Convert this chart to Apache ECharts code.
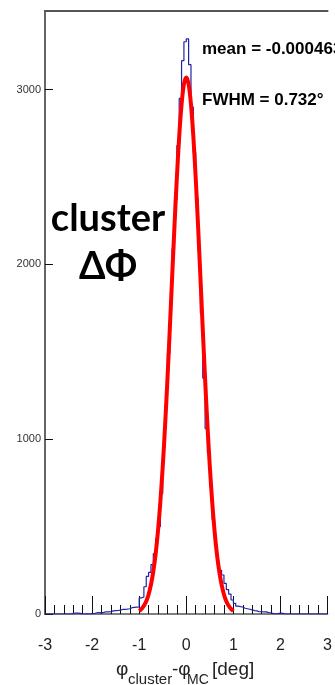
<!DOCTYPE html>
<html>
<head>
<meta charset="utf-8">
<script src="https://cdn.jsdelivr.net/npm/echarts@6/dist/echarts.min.js"></script>
<style>
  html, body { margin: 0; padding: 0; background: #fff; }
  #chart { width: 335px; height: 685px; }
</style>
</head>
<body>
<div id="chart"></div>
<script>
// Histogram of phi_cluster - phi_MC, 0.05 deg bins from -3 to 3 deg
const binStart = -3;
const binWidth = 0.05;
const counts = [
  0, 0, 0, 0, 0, 0, 0, 0, 0, 0, 0,
  3, 5, 5, 4, 1, 0, 1, 0, 2,
  3, 7, 8, 6, 9, 13, 12, 14, 18, 19,
  20, 22, 26, 27, 28, 30, 36, 38, 39, 40,
  92, 97, 156, 215, 238, 282, 345, 430, 500, 690,
  950, 1200, 1490, 1770, 2090, 2370, 2680, 2950, 3166, 3274,
  3290, 3143, 2900, 2640, 2380, 2080, 1720, 1350, 1060, 920,
  727, 540, 390, 300, 250, 223, 175, 140, 114, 80,
  61, 45, 42, 40, 33, 30, 27, 24, 19, 18,
  13, 13, 12, 12, 8, 7, 2, 1, 3, 5,
  4,
  0, 0, 0, 0, 0, 0, 0, 0, 0, 0, 0, 0, 0, 0, 0, 0, 0, 0, 0
];

// Gaussian fit curve, sampled every 0.05 deg over [-1, 1]
const fitStart = -1;
const fitStep = 0.05;
const fitValues = [
  17, 29, 47, 73, 112, 168, 244, 345, 477, 643,
  843, 1078, 1342, 1630, 1928, 2222, 2496, 2733, 2915, 3031,
  3070,
  3031, 2915, 2733, 2496, 2222, 1928, 1630, 1342, 1078, 843,
  643, 477, 345, 244, 168, 112, 73, 47, 29, 17
];

const meanLabel = 'mean = -0.000463';
const fwhmLabel = 'FWHM = 0.732\u00b0';

const histData = counts.map((v, i) => [+(binStart + i * binWidth).toFixed(2), v]);
histData.push([+(binStart + counts.length * binWidth).toFixed(2), counts[counts.length - 1]]);
const fitData = fitValues.map((v, i) => [+(fitStart + i * fitStep).toFixed(2), v]);

const chart = echarts.init(document.getElementById('chart'), null, { renderer: 'canvas' });

const sans = '"Liberation Sans", Arial, sans-serif';

chart.setOption({
  animation: false,
  backgroundColor: '#fff',
  grid: { left: 45, right: 3, top: 11, bottom: 71 },
  xAxis: [
    {
      type: 'value', min: -3, max: 3, interval: 1, position: 'bottom',
      axisLine: { show: true, onZero: false, lineStyle: { color: '#555', width: 1.5 } },
      axisTick: { show: true, inside: true, length: 18, lineStyle: { color: '#111', width: 1 } },
      minorTick: { show: true, splitNumber: 5, length: 9, lineStyle: { color: '#111', width: 1 } },
      axisLabel: { fontSize: 16, color: '#222', margin: 24, fontFamily: sans },
      splitLine: { show: false }
    },
    {
      type: 'value', position: 'top', min: -3, max: 3,
      axisLine: { show: true, onZero: false, lineStyle: { color: '#555', width: 2 } },
      axisTick: { show: false }, axisLabel: { show: false }, splitLine: { show: false }
    }
  ],
  yAxis: {
    type: 'value', min: 0, max: 3450, interval: 1000, position: 'left',
    axisLine: { show: true, onZero: false, lineStyle: { color: '#666', width: 2 } },
    axisTick: { show: true, inside: true, length: 8, lineStyle: { color: '#111', width: 1 } },
    axisLabel: { fontSize: 11, color: '#333', margin: 4, fontFamily: sans, showMaxLabel: false,
      formatter: v => String(v) },
    splitLine: { show: false }
  },
  series: [
    {
      type: 'line', xAxisIndex: 0, data: histData, step: 'end', symbol: 'none',
      lineStyle: { color: '#2222a8', width: 1.2 }, z: 2
    },
    {
      type: 'line', xAxisIndex: 0, data: fitData, smooth: 0.3, symbol: 'none',
      lineStyle: { color: '#ff0000', width: 4 }, z: 3
    }
  ],
  graphic: [
    { type: 'text', x: 108, y: 219, z: 10,
      style: { text: 'cluster', font: 'bold 38px Lato, "Open Sans", sans-serif', fill: '#000', align: 'center', verticalAlign: 'middle' } },
    { type: 'text', x: 108, y: 267, z: 10,
      style: { text: '\u0394\u03a6', font: 'bold 38px Lato, "Open Sans", sans-serif', fill: '#000', align: 'center', verticalAlign: 'middle' } },
    { type: 'text', x: 202, y: 49, z: 10,
      style: { text: meanLabel, font: 'bold 17px ' + sans, fill: '#000', align: 'left', verticalAlign: 'middle' } },
    { type: 'text', x: 202, y: 100, z: 10,
      style: { text: fwhmLabel, font: 'bold 17px ' + sans, fill: '#000', align: 'left', verticalAlign: 'middle' } },
    { type: 'text', x: 116, y: 670, z: 10,
      style: { text: '\u03c6', font: '19px ' + sans, fill: '#222', align: 'left', verticalAlign: 'middle' } },
    { type: 'text', x: 128, y: 680, z: 10,
      style: { text: 'cluster', font: '15px ' + sans, fill: '#222', align: 'left', verticalAlign: 'middle' } },
    { type: 'text', x: 172, y: 670, z: 10,
      style: { text: '-\u03c6', font: '19px ' + sans, fill: '#222', align: 'left', verticalAlign: 'middle' } },
    { type: 'text', x: 187, y: 680, z: 10,
      style: { text: 'MC', font: '14px ' + sans, fill: '#222', align: 'left', verticalAlign: 'middle' } },
    { type: 'text', x: 212, y: 670, z: 10,
      style: { text: '[deg]', font: '19px ' + sans, fill: '#222', align: 'left', verticalAlign: 'middle' } }
  ]
});
</script>
</body>
</html>
